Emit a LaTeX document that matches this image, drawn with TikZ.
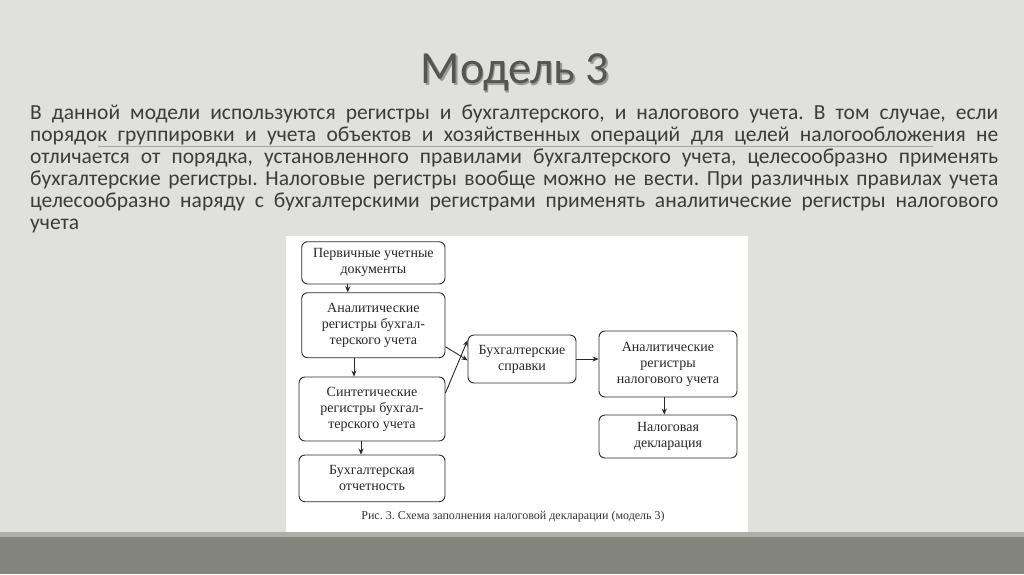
\documentclass[tikz,border=0pt]{standalone}
\usepackage{fontspec}
\setmainfont{Carlito}
\newfontfamily\diagfont{Liberation Serif}
\usetikzlibrary{arrows.meta}
\frenchspacing
\definecolor{bgc}{HTML}{E0E0DC}
\definecolor{stripc}{HTML}{B0B0AA}
\definecolor{bandc}{HTML}{83847B}
\definecolor{titlec}{HTML}{555555}
\definecolor{bodyc}{HTML}{3C3C3C}
\definecolor{linec}{HTML}{2A2A2A}
\definecolor{faintc}{HTML}{A4A4A0}
\tikzset{
  x=1pt,y=-1pt,
  box/.style={draw=linec, line width=0.9pt, rounded corners=6pt, align=center, inner sep=0pt,
    font=\diagfont\fontsize{14}{16}\selectfont, text=black!85},
  arr/.style={draw=linec, line width=0.9pt, -{Stealth[length=6pt,width=5pt]}},
  bodyline/.style={anchor=base west, inner sep=0pt, font=\fontsize{21.5}{22}\selectfont, text=bodyc}
}
\begin{document}
\begin{tikzpicture}
\fill[bgc] (0,0) rectangle (1024,574);
\useasboundingbox (0,0) rectangle (1024,574);
\fill[stripc] (0,532) rectangle (1024,537);
\fill[bandc] (0,537) rectangle (1024,574);
\fill[white] (286,236) rectangle (748,532);
% title
\node[anchor=base, inner sep=0pt, font=\fontsize{46}{50}\selectfont, text=black!40] (tsh) at (516.5,85) {Модель 3};
\node[anchor=base, inner sep=0pt, font=\fontsize{46}{50}\selectfont, text=titlec] (title) at (515,83.5) {Модель 3};
% faint rule under second line
\draw[faintc, line width=0.8pt] (98,146.5) -- (933,146.5);
% body
\node[bodyline] (l1) at (30,119) {\makebox[968pt][s]{В данной модели используются регистры и бухгалтерского, и налогового учета. В том случае, если}};
\node[bodyline] (l2) at (30,141.1) {\makebox[968pt][s]{порядок группировки и учета объектов и хозяйственных операций для целей налогообложения не}};
\node[bodyline] (l3) at (30,163.2) {\makebox[968pt][s]{отличается от порядка, установленного правилами бухгалтерского учета, целесообразно применять}};
\node[bodyline] (l4) at (30,185.3) {\makebox[968pt][s]{бухгалтерские регистры. Налоговые регистры вообще можно не вести. При различных правилах учета}};
\node[bodyline] (l5) at (30,207.4) {\makebox[968pt][s]{целесообразно наряду с бухгалтерскими регистрами применять аналитические регистры налогового}};
\node[bodyline] (l6) at (30,229.5) {учета};
% diagram
\node[box, minimum width=143.3pt, minimum height=42.3pt] (b1) at (373.35,262.85) {Первичные учетные\\документы};
\node[box, minimum width=143.3pt, minimum height=65pt] (b2) at (373.35,325.2) {Аналитические\\регистры бухгал-\\терского учета};
\node[box, minimum width=146pt, minimum height=64pt] (b3) at (372,409) {Синтетические\\регистры бухгал-\\терского учета};
\node[box, minimum width=146pt, minimum height=46.7pt] (b4) at (372,478.35) {Бухгалтерская\\отчетность};
\node[box, minimum width=108pt, minimum height=48pt] (b5) at (522,359) {Бухгалтерские\\справки};
\node[box, minimum width=138pt, minimum height=66pt] (b6) at (668,364) {Аналитические\\регистры\\налогового учета};
\node[box, minimum width=138pt, minimum height=43pt] (b7) at (668,436.5) {Налоговая\\декларация};
\node[anchor=base, inner sep=0pt, font=\diagfont\fontsize{12}{14}\selectfont, text=black!80] (cap) at (513,519) {Рис. 3. Схема заполнения налоговой декларации (модель 3)};
% arrows
\draw[arr] ([xshift=-25.6pt]b1.south) -- ([xshift=-25.6pt]b1.south |- b2.north);
\draw[arr] ([xshift=-19.4pt]b2.south) -- ([xshift=-19.4pt]b2.south |- b3.north);
\draw[arr] ([xshift=-11pt]b3.south) -- ([xshift=-11pt]b3.south |- b4.north);
\draw[arr] ([yshift=-21.5pt]b2.east) -- ([yshift=-1.3pt]b5.west);
\draw[arr] ([yshift=16pt]b3.east) -- ([yshift=18.7pt]b5.west);
\draw[arr] (b5.east) -- (b5.east -| b6.west);
\draw[arr] (b6.south) ++(-3.7pt,0) coordinate (a6) -- (a6 |- b7.north);
\end{tikzpicture}
\end{document}
